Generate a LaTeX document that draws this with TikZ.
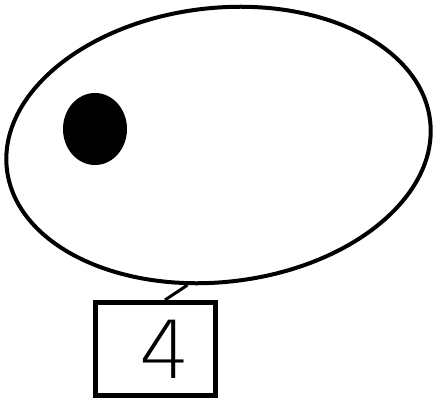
\documentclass[tikz,border=0pt]{standalone}
\usepackage{fontspec}
\newfontfamily\digitfont{DejaVu Sans ExtraLight}
\usetikzlibrary{shapes.geometric}

\begin{document}
\begin{tikzpicture}[x=1pt, y=1pt,
    blob/.style={draw, ellipse, line width=4pt, inner sep=0pt,
        minimum width=426pt, minimum height=274pt, rotate=6.5},
    eye/.style={fill=black, ellipse, inner sep=0pt,
        minimum width=64pt, minimum height=72pt},
    label box/.style={draw, line width=5pt, inner sep=0pt,
        minimum width=120pt, minimum height=93pt,
        font=\digitfont\fontsize{80}{80}\selectfont}]
    \useasboundingbox (0,0) rectangle (435,400);

    % Body
    \node[blob] (body) at (218.5,255) {};
    \node[eye] (spot) at (95,271) {};

    % Label
    \node[label box] (tag) at (155.5,51) {\hspace*{19pt}4};
    \draw[line width=3pt] ([xshift=9.5pt]tag.north) -- (body.251);
\end{tikzpicture}
\end{document}
